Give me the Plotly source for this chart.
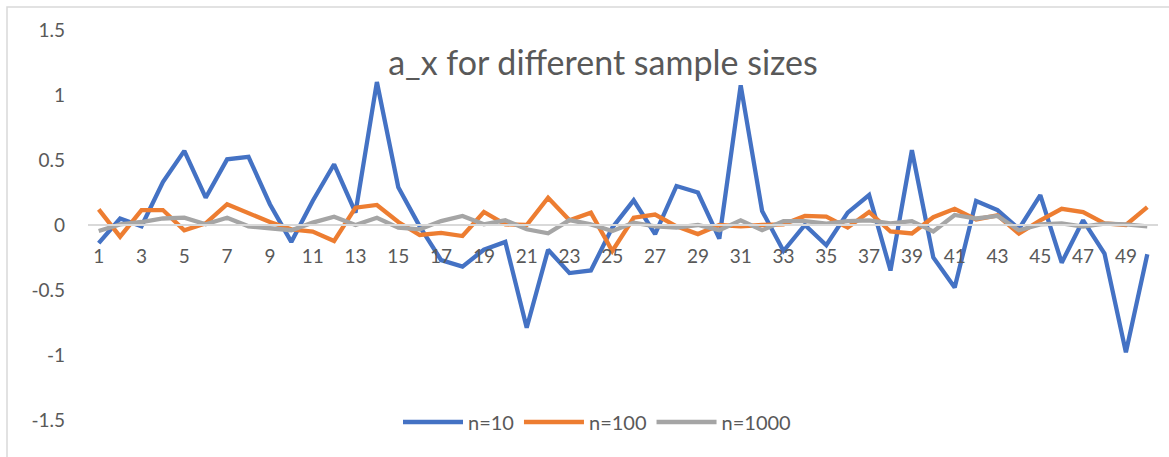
import plotly.graph_objects as go

# sample index along the x axis
sample_index = list(range(1, 51))

# a_x estimates for each sample size
n10 = [-0.14, 0.05, -0.01, 0.33, 0.57, 0.21, 0.505, 0.525, 0.16, -0.13,
       0.185, 0.467, 0.095, 1.10, 0.29, -0.01, -0.27, -0.32, -0.19, -0.13,
       -0.79, -0.19, -0.37, -0.35, -0.02, 0.19, -0.07, 0.30, 0.25, -0.105,
       1.075, 0.108, -0.20, 0.0, -0.156, 0.095, 0.23, -0.35, 0.575, -0.25,
       -0.48, 0.185, 0.115, -0.03, 0.23, -0.29, 0.036, -0.22, -0.98, -0.225]
n100 = [0.12, -0.09, 0.115, 0.115, -0.04, 0.013, 0.16, 0.095, 0.023, -0.033,
        -0.05, -0.123, 0.133, 0.154, 0.023, -0.077, -0.06, -0.085, 0.10, 0.005,
        0.0, 0.21, 0.036, 0.095, -0.20, 0.056, 0.08, -0.01, -0.07, 0.0,
        -0.01, 0.0, 0.005, 0.07, 0.065, -0.02, 0.10, -0.05, -0.065, 0.06,
        0.125, 0.043, 0.074, -0.066, 0.036, 0.125, 0.10, 0.013, 0.0, 0.138]
n1000 = [-0.046, 0.005, 0.023, 0.05, 0.056, 0.005, 0.056, -0.01, -0.025, -0.04,
         0.018, 0.064, 0.0, 0.056, -0.02, -0.033, 0.03, 0.07, 0.005, 0.036,
         -0.033, -0.064, 0.038, 0.005, -0.046, 0.018, -0.01, -0.02, 0.0, -0.04,
         0.036, -0.04, 0.03, 0.03, 0.01, 0.03, 0.036, 0.013, 0.03, -0.05,
         0.077, 0.05, 0.07, -0.04, 0.005, 0.013, -0.013, 0.01, 0.005, -0.01]

series_names = ["n=10", "n=100", "n=1000"]
series_colors = ["#4472C4", "#ED7D31", "#A5A5A5"]

y_tickvals = [-1.5, -1, -0.5, 0, 0.5, 1, 1.5]
y_ticktext = ["-1.5", "-1", "-0.5", "0", "0.5", "1", "1.5"]

FONT = "Lato"
TEXT_COLOR = "#595959"

fig = go.Figure()
for name, values, color in zip(series_names, [n10, n100, n1000], series_colors):
    fig.add_trace(go.Scatter(
        x=sample_index, y=values, name=name, mode="lines",
        line=dict(color=color, width=4.3),
    ))

W, H = 1169, 457
L, R, T, B = 88, 11, 30, 37
pw, ph = W - L - R, H - T - B

fig.update_layout(
    width=W, height=H,
    margin=dict(l=L, r=R, t=T, b=B),
    paper_bgcolor="white", plot_bgcolor="white",
    font=dict(family=FONT, color=TEXT_COLOR, size=19),
    title=dict(
        text="a_x for different sample sizes",
        font=dict(family=FONT, size=34, color=TEXT_COLOR),
        xref="container", x=603 / W, xanchor="center",
        yref="container", y=1 - 63 / H, yanchor="middle",
    ),
    xaxis=dict(
        range=[0.5, 50.5], tickmode="linear", tick0=1, dtick=2,
        showgrid=False, zeroline=False,
        showline=True, linecolor="#D9D9D9", linewidth=1.5,
        ticks="", anchor="free", position=0.5,
        ticklabelstandoff=14,
        tickfont=dict(family=FONT, size=19, color=TEXT_COLOR),
    ),
    yaxis=dict(
        range=[-1.5, 1.5], tickvals=y_tickvals, ticktext=y_ticktext,
        showgrid=False, zeroline=False, showline=False, ticks="",
        ticklabelstandoff=22,
        tickfont=dict(family=FONT, size=19, color=TEXT_COLOR),
    ),
    legend=dict(
        orientation="h", xref="paper", x=(597 - L) / pw, xanchor="center",
        yref="paper", y=(H - B - 422) / ph, yanchor="middle",
        font=dict(family=FONT, size=20, color=TEXT_COLOR),
        itemwidth=60,
        bgcolor="rgba(0,0,0,0)",
    ),
    showlegend=True,
)

# chart frame: light border along the top and left edges
fig.add_shape(
    type="rect", xref="paper", yref="paper",
    x0=(7 - L) / pw, x1=(W + 20 - L) / pw,
    y0=-(B + 20) / ph, y1=1 + (T - 7) / ph,
    line=dict(color="#D9D9D9", width=1.5), fillcolor="rgba(0,0,0,0)",
    layer="below",
)

fig.write_html("out.html")
